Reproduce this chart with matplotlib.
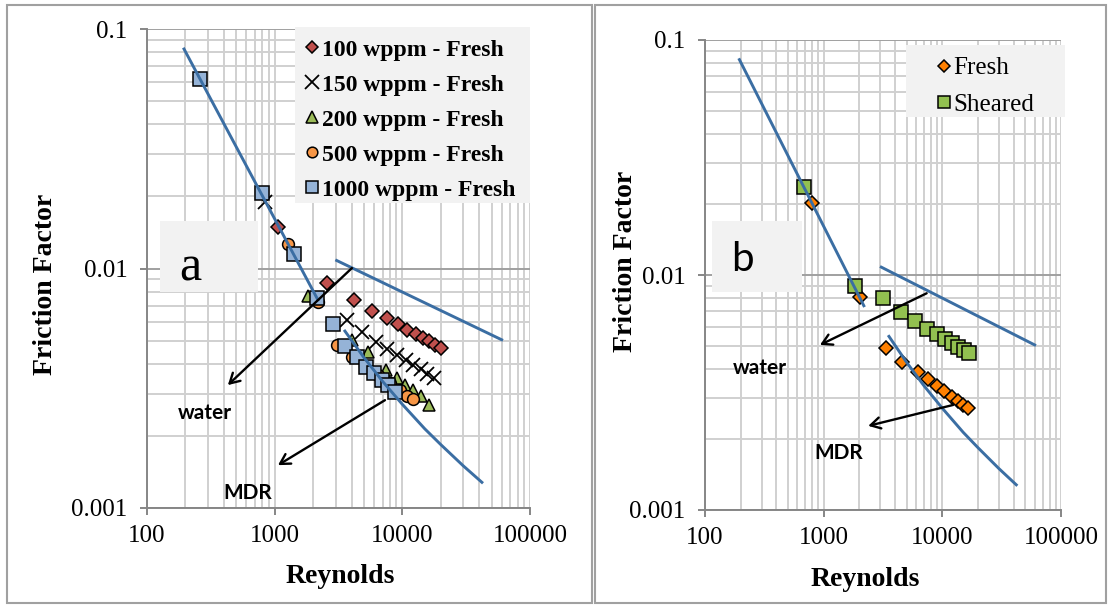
import numpy as np
import matplotlib
matplotlib.use('Agg')
import matplotlib.pyplot as plt
from matplotlib.ticker import LogLocator, NullFormatter, FixedLocator, FixedFormatter
from matplotlib.patches import Rectangle

plt.rcParams['font.family'] = ['Liberation Serif', 'DejaVu Sans']

# ---------------- data ----------------
re_100 = [1056, 2582, 4178, 5750, 7618, 9290, 10925, 12780, 14420, 16240, 18000, 19950]
f_100 = [0.01494, 0.00868, 0.00739, 0.00665, 0.00623, 0.00587, 0.00554, 0.00533, 0.00511, 0.00498, 0.00479, 0.00464]
re_150 = [839, 3663, 4800, 6215, 7618, 9024, 10670, 12170, 13910, 15670, 17780]
f_150 = [0.01895, 0.00610, 0.00545, 0.00495, 0.00461, 0.00435, 0.00415, 0.00396, 0.00379, 0.00363, 0.00348]
re_200 = [1823, 4030, 5378, 7437, 9024, 10480, 12170, 13910, 16240]
f_200 = [0.00768, 0.00503, 0.00448, 0.00377, 0.00348, 0.00326, 0.00311, 0.00293, 0.00269]
re_500 = [1278, 2183, 3092, 4030, 5096, 6441, 8000, 9577, 10925, 12040]
f_500 = [0.01266, 0.00725, 0.00479, 0.00427, 0.00392, 0.00359, 0.00333, 0.00311, 0.00293, 0.00284]
re_1000 = [260, 795, 1416, 2133, 2877, 3553, 4386, 5188, 5993, 6884, 7755, 8750]
f_1000 = [0.0618, 0.02066, 0.0115, 0.00755, 0.00587, 0.00475, 0.00426, 0.00389, 0.00365, 0.00342, 0.00326, 0.00306]

re_fresh = [792, 2022, 3349, 4541, 6266, 7607, 8954, 10370, 11980, 13460, 15000, 16340]
f_fresh = [0.0203, 0.00809, 0.0049, 0.00428, 0.00388, 0.00361, 0.00337, 0.00321, 0.00303, 0.00292, 0.0028, 0.00272]
re_sheared = [682, 1835, 3141, 4479, 5878, 7460, 8954, 10520, 11980, 13610, 15210, 16850]
f_sheared = [0.02375, 0.0090, 0.00796, 0.00698, 0.00637, 0.00589, 0.00559, 0.00533, 0.00512, 0.00495, 0.0048, 0.00464]

lam_re = [195, 2180]
lam_f = [0.0825, 0.0074]
water_re = [3060, 60000]
water_f = [0.0108, 0.00504]
mdr_re = [3550, 5000, 7000, 10000, 15000, 20000, 30000, 42000]
mdr_f = [0.00548, 0.00425, 0.00338, 0.00271, 0.00214, 0.00184, 0.0015, 0.00128]

x_ticks = [100, 1000, 10000, 100000]
x_ticklabels = ['100', '1000', '10000', '100000']
y_ticks = [0.001, 0.01, 0.1]
y_ticklabels = ['0.001', '0.01', '0.1']

line_color = '#3b6ea3'
bg_box = '#f2f2f2'

fig = plt.figure(figsize=(11.1, 6.05), dpi=100)

# panel frames
fig.patches.append(Rectangle((7/1110, 2/605), 585/1110, 598/605, transform=fig.transFigure,
                             fill=False, edgecolor='#a0a0a0', lw=1.5))
fig.patches.append(Rectangle((595/1110, 2/605), 511/1110, 598/605, transform=fig.transFigure,
                             fill=False, edgecolor='#a0a0a0', lw=1.5))

ax_a = fig.add_axes([147/1110, 1-508/605, 383/1110, 479/605])
ax_b = fig.add_axes([705/1110, 1-510/605, 356/1110, 470/605])


def setup(ax):
    ax.set_xscale('log')
    ax.set_yscale('log')
    ax.set_xlim(100, 1e5)
    ax.set_ylim(1e-3, 0.1)
    ax.xaxis.set_major_locator(FixedLocator(x_ticks))
    ax.xaxis.set_major_formatter(FixedFormatter(x_ticklabels))
    ax.yaxis.set_major_locator(FixedLocator(y_ticks))
    ax.yaxis.set_major_formatter(FixedFormatter(y_ticklabels))
    ax.xaxis.set_minor_locator(LogLocator(base=10, subs=np.arange(2, 10)))
    ax.yaxis.set_minor_locator(LogLocator(base=10, subs=np.arange(2, 10)))
    ax.xaxis.set_minor_formatter(NullFormatter())
    ax.yaxis.set_minor_formatter(NullFormatter())
    ax.xaxis.grid(True, which='both', color='#d0d0d0', lw=1.4)
    ax.yaxis.grid(True, which='minor', color='#d0d0d0', lw=1.4)
    ax.yaxis.grid(True, which='major', color='#a0a0a0', lw=1.4)
    ax.set_axisbelow(True)
    for s in ['top', 'right']:
        ax.spines[s].set_visible(False)
    for s in ['left', 'bottom']:
        ax.spines[s].set_color('#868686')
        ax.spines[s].set_linewidth(1.4)
    ax.tick_params(which='major', length=5, width=1.4, color='#868686', labelsize=18)
    ax.tick_params(axis='x', which='major', pad=7)
    ax.tick_params(axis='y', which='major', pad=9)
    ax.tick_params(which='minor', length=0)
    ax.set_xlabel('Reynolds', fontsize=20, fontweight='bold')
    ax.set_ylabel('Friction Factor', fontsize=20, fontweight='bold')
    ax.xaxis.label.set_va('center')
    ax.yaxis.label.set_va('center')


setup(ax_a)
setup(ax_b)

ms_kw = dict(linestyle='none', markeredgecolor='black', markeredgewidth=1.1)

# ---------------- panel a ----------------
ax_a.plot(re_100, f_100, marker='D', ms=7.3, markerfacecolor='#c0504d', label='100 wppm - Fresh', zorder=3, **ms_kw)
ax_a.plot(re_150, f_150, marker='x', ms=10.5, color='black', markeredgewidth=1.3, linestyle='none',
          label='150 wppm - Fresh', zorder=3)
ax_a.plot(re_200, f_200, marker='^', ms=9, markerfacecolor='#9bbb59', label='200 wppm - Fresh', zorder=3, **ms_kw)
ax_a.plot(re_500, f_500, marker='o', ms=8.5, markerfacecolor='#f79646', label='500 wppm - Fresh', zorder=3, **ms_kw)
ax_a.plot(re_1000, f_1000, marker='s', ms=10, markerfacecolor='#95b3d7', label='1000 wppm - Fresh', zorder=3, **ms_kw)

for ax in (ax_a, ax_b):
    ax.plot(lam_re, lam_f, color=line_color, lw=2.1, zorder=4)
    ax.plot(water_re, water_f, color=line_color, lw=2.1, zorder=4)
    ax.plot(mdr_re, mdr_f, color=line_color, lw=2.1, zorder=4)

ax_a.add_patch(Rectangle((0.3864, 0.6367), 0.6136, 0.3675, transform=ax_a.transAxes,
                         facecolor=bg_box, edgecolor='none', zorder=4.5, clip_on=False))
leg_a = ax_a.legend(loc='upper left', bbox_to_anchor=(0.4125, 0.979), frameon=False,
                    borderpad=0, borderaxespad=0, handlelength=0.6, handletextpad=0.1,
                    labelspacing=0.57, prop={'family': 'Liberation Serif', 'weight': 'bold', 'size': 17},
                    markerscale=0.9)
leg_a.set_zorder(6)

ax_a.add_patch(Rectangle((0.034, 0.451), 0.256, 0.148, transform=ax_a.transAxes,
                         facecolor=bg_box, edgecolor='none', zorder=4.5))
ax_a.text(0.1123, 0.500, 'a', transform=ax_a.transAxes, fontsize=36, ha='center', va='center',
          family='Liberation Serif', zorder=6)

arrow_kw = dict(arrowstyle='->,head_length=0.7,head_width=0.4', color='black', lw=1.7,
                shrinkA=0, shrinkB=0)
ax_a.annotate('', xy=(430, 0.00326), xytext=(4027, 0.01004), arrowprops=arrow_kw, zorder=5)
ax_a.annotate('', xy=(1062, 0.00151), xytext=(7311, 0.00282), arrowprops=arrow_kw, zorder=5)
ax_a.text(0.1514, 0.199, 'water', transform=ax_a.transAxes, fontsize=15, fontweight='bold',
          family=['Lato', 'DejaVu Sans'], ha='center', va='center', zorder=6)
ax_a.text(0.2637, 0.032, 'MDR', transform=ax_a.transAxes, fontsize=15, fontweight='bold',
          family=['Lato', 'DejaVu Sans'], ha='center', va='center', zorder=6)

ax_a.xaxis.set_label_coords(0.505, -0.144)
ax_a.yaxis.set_label_coords((46-147)/383, 0.466)

# ---------------- panel b ----------------
ax_b.plot(re_fresh, f_fresh, marker='D', ms=7.3, markerfacecolor='#ff8000', label='Fresh', zorder=3, **ms_kw)
ax_b.plot(re_sheared, f_sheared, marker='s', ms=9.5, markerfacecolor='#92c050', label='Sheared', zorder=3, **ms_kw)

ax_b.add_patch(Rectangle((0.5646, 0.8362), 0.4466, 0.1532, transform=ax_b.transAxes,
                         facecolor=bg_box, edgecolor='none', zorder=4.5, clip_on=False))
leg_b = ax_b.legend(loc='upper left', bbox_to_anchor=(0.649, 0.964), frameon=False,
                    borderpad=0, borderaxespad=0, handlelength=0.6, handletextpad=0.1,
                    labelspacing=0.57, prop={'family': 'Liberation Serif', 'size': 18},
                    markerscale=0.9)
leg_b.set_zorder(6)

ax_b.add_patch(Rectangle((0.0188, 0.4645), 0.2528, 0.1504, transform=ax_b.transAxes,
                         facecolor=bg_box, edgecolor='none', zorder=4.5))
ax_b.text(0.104, 0.532, 'b', transform=ax_b.transAxes, fontsize=29, ha='center', va='center',
          family=['Lato', 'DejaVu Sans'], zorder=6)

ax_b.annotate('', xy=(931, 0.00504), xytext=(7375, 0.00836), arrowprops=arrow_kw, zorder=5)
ax_b.annotate('', xy=(2375, 0.00228), xytext=(12360, 0.0028), arrowprops=arrow_kw, zorder=5)
ax_b.text(0.1545, 0.3015, 'water', transform=ax_b.transAxes, fontsize=15, fontweight='bold',
          family=['Lato', 'DejaVu Sans'], ha='center', va='center', zorder=6)
ax_b.text(0.3744, 0.1206, 'MDR', transform=ax_b.transAxes, fontsize=15, fontweight='bold',
          family=['Lato', 'DejaVu Sans'], ha='center', va='center', zorder=6)

ax_b.xaxis.set_label_coords((865-705)/356, (510-580)/470)
ax_b.yaxis.set_label_coords((625-705)/356, 0.53)

fig.savefig('out.png', dpi=100)
